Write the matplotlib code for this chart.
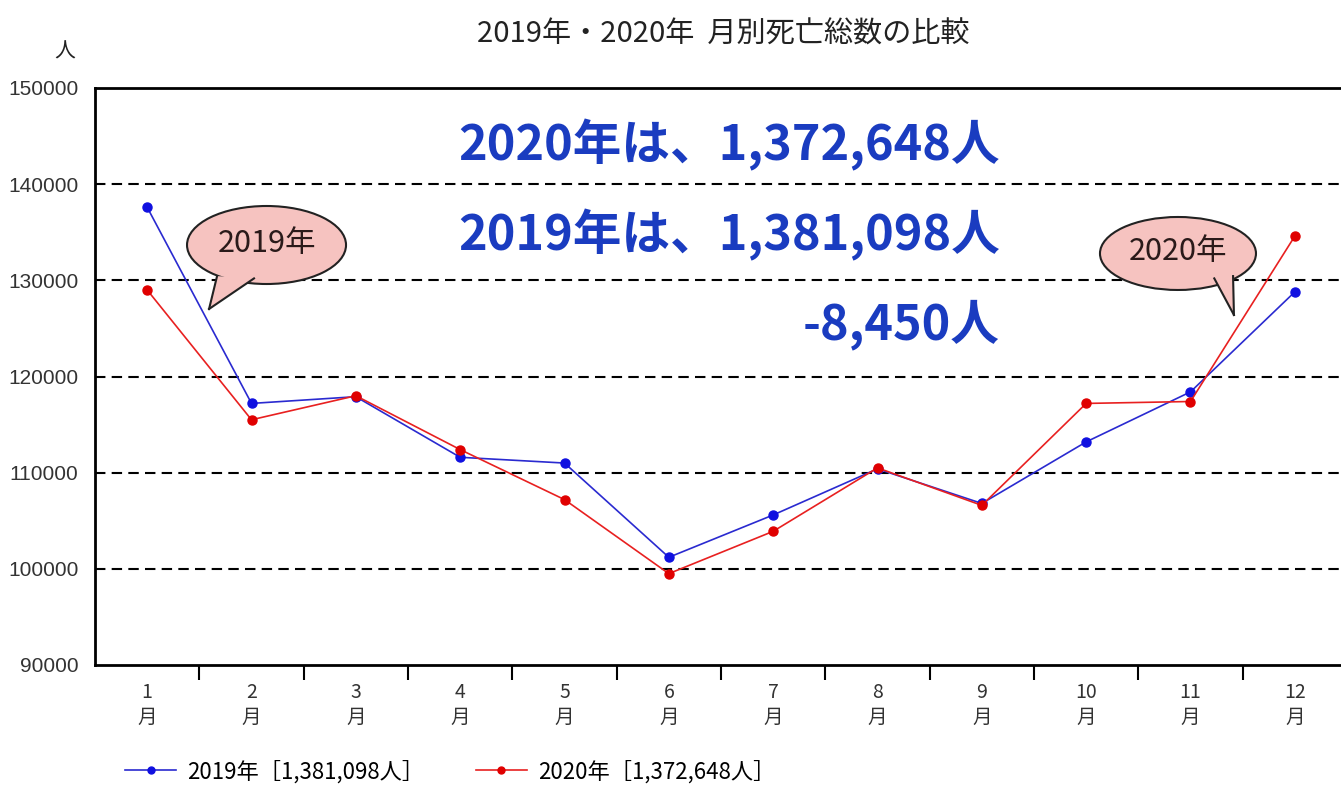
import matplotlib
matplotlib.use("Agg")
import matplotlib.pyplot as plt
from matplotlib.patches import Ellipse, Polygon
from matplotlib.lines import Line2D

plt.rcParams['font.family'] = ['Noto Sans CJK JP', 'DejaVu Sans']

# データ
months = [1, 2, 3, 4, 5, 6, 7, 8, 9, 10, 11, 12]
month_labels = [f"{m}\n月" for m in months]
deaths_2019 = [137600, 117200, 117900, 111600, 111000, 101200,
               105600, 110400, 106800, 113200, 118400, 128800]
deaths_2020 = [129000, 115500, 118000, 112400, 107200, 99500,
               103900, 110500, 106600, 117200, 117400, 134600]
y_ticks = [90000, 100000, 110000, 120000, 130000, 140000, 150000]
legend_2019 = "2019年［1,381,098人］"
legend_2020 = "2020年［1,372,648人］"
big_texts = ["2020年は、1,372,648人", "2019年は、1,381,098人", "-8,450人"]

fig = plt.figure(figsize=(13.41, 7.88), dpi=100)
# 右端は元画像でも切れている
ax = fig.add_axes([95 / 1341, 123 / 788, 1252 / 1341, 577 / 788])

ax.plot(months, deaths_2019, color='#2a2ad0', lw=1.2, marker='o', ms=6.5,
        mfc='#1010e0', mec='#1010e0', zorder=4)
ax.plot(months, deaths_2020, color='#e82020', lw=1.2, marker='o', ms=6.5,
        mfc='#e00000', mec='#e00000', zorder=4)

ax.set_xlim(0.5, 12.5)
ax.set_ylim(90000, 150000)
ax.set_yticks(y_ticks)
ax.set_yticklabels([str(v) for v in y_ticks], family=['Liberation Sans', 'DejaVu Sans'],
                   fontsize=15, color='#333333')
ax.tick_params(axis='y', length=0, pad=12)

# 区切りの目盛りと月ラベル
ax.set_xticks([m + 0.5 for m in months[:-1]])
ax.set_xticklabels([])
ax.tick_params(axis='x', which='major', length=11, width=1.5, direction='out')
ax.set_xticks(months, minor=True)
ax.set_xticklabels(month_labels, minor=True, fontsize=14, linespacing=1.25,
                   color='#333333')
ax.tick_params(axis='x', which='minor', length=0, pad=12)

for v in y_ticks[1:-1]:
    ax.axhline(v, color='black', lw=1.5, ls=(0, (5, 3)), zorder=1)

for s in ax.spines.values():
    s.set_linewidth(2)
    s.set_color('black')

# 吹き出し
def balloon(cx, cy, w, h, tail, label):
    ax.add_patch(Ellipse((cx, cy), w, h, transform=ax.transAxes,
                         facecolor='#f6c3c0', edgecolor='#222222', lw=1.5, zorder=5))
    ax.add_patch(Polygon(tail, closed=True, transform=ax.transAxes,
                         facecolor='#f6c3c0', edgecolor='none', zorder=6))
    for a, b in [(tail[0], tail[1]), (tail[1], tail[2])]:
        ax.add_line(Line2D([a[0], b[0]], [a[1], b[1]], transform=ax.transAxes,
                           color='#222222', lw=1.5, zorder=7))
    ax.text(cx, cy + 0.003, label, transform=ax.transAxes, ha='center', va='center',
            fontsize=22, color='#2a1a1a', zorder=8)

balloon(0.1370, 0.7279, 0.1270, 0.1352,
        [(0.0975, 0.6740), (0.0911, 0.6170), (0.1270, 0.6700)], "2019年")
balloon(0.8650, 0.7132, 0.1246, 0.1265,
        [(0.8940, 0.6700), (0.9097, 0.6066), (0.9090, 0.6740)], "2020年")

# 大きな注記
for t, fy in zip(big_texts, [0.9012, 0.7452, 0.5893]):
    ax.text(0.7228, fy, t, transform=ax.transAxes, ha='right', va='center',
            fontsize=35, fontweight='bold', color='#1a3cc0', zorder=8)

fig.text(0.539, 0.9556, "2019年・2020年  月別死亡総数の比較", ha='center', va='center',
         fontsize=21, color='#222222')
fig.text(0.0485, 0.935, "人", ha='center', va='center', fontsize=15, color='#222222')

handles = [Line2D([], [], color='#2a2ad0', lw=1.2, marker='o', ms=5,
                  mfc='#1010e0', mec='#1010e0'),
           Line2D([], [], color='#e82020', lw=1.2, marker='o', ms=5,
                  mfc='#e00000', mec='#e00000')]
fig.legend(handles, [legend_2019, legend_2020], loc='lower left',
           bbox_to_anchor=(0.085, -0.008), ncol=2, frameon=False, fontsize=16,
           handlelength=2.3, columnspacing=2.3, handletextpad=0.5, borderpad=0)

fig.savefig("out.png", dpi=100)
